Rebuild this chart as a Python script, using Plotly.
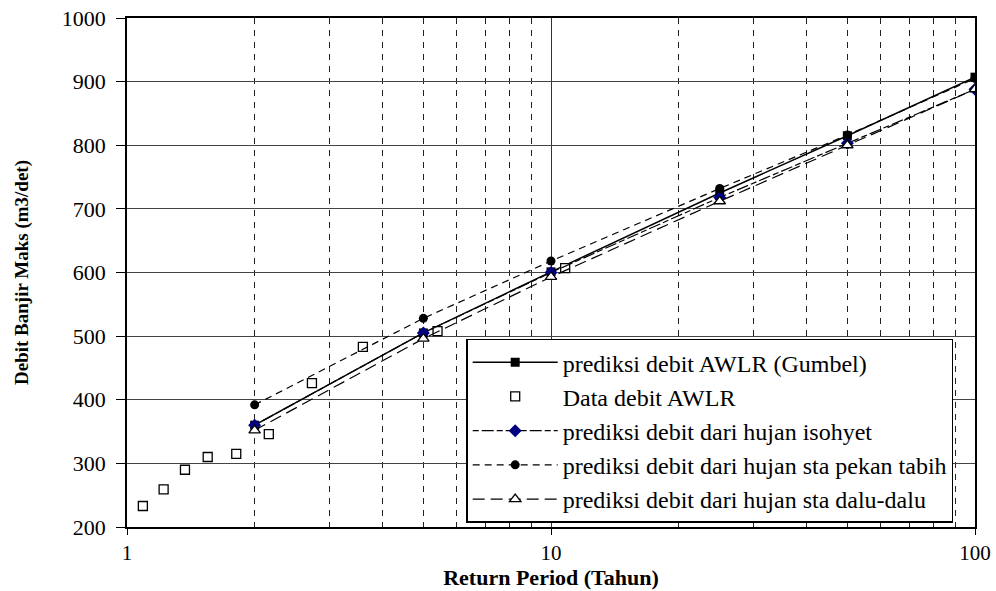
import plotly.graph_objects as go

# Return periods for predictions
T_pred = [2, 5, 10, 25, 50, 100]
gumbel = [360, 505, 601, 725, 815, 907]
isohyet = [360, 505, 600, 718, 803, 888]
pekan_tabih = [392, 528, 618, 732, 816, 905]
dalu_dalu = [352, 496, 593, 712, 800, 888]

# Observed AWLR data
T_obs = [1.09, 1.22, 1.37, 1.55, 1.81, 2.16, 2.73, 3.6, 5.4, 10.8]
Q_obs = [233, 259, 290, 310, 315, 346, 426, 483, 508, 607]

y_ticks = [200, 300, 400, 500, 600, 700, 800, 900, 1000]

SERIF = "Liberation Serif, Times New Roman, serif"

fig = go.Figure()

fig.add_trace(go.Scatter(
    x=T_pred, y=gumbel, mode="lines+markers",
    name="prediksi debit AWLR (Gumbel)", legendgroup="a",
    line=dict(color="black", width=1.5),
    marker=dict(symbol="square", size=9, color="black")))

fig.add_trace(go.Scatter(
    x=T_obs, y=Q_obs, mode="markers",
    name="Data debit AWLR", legendgroup="b",
    marker=dict(symbol="square", size=9, color="white",
                line=dict(color="black", width=1.3))))

fig.add_trace(go.Scatter(
    x=T_pred, y=isohyet, mode="lines+markers",
    name="prediksi debit dari hujan isohyet", legendgroup="c",
    line=dict(color="black", width=1.2, dash="6px,3px,12px,3px"),
    marker=dict(symbol="diamond", size=10, color="#000080")))

fig.add_trace(go.Scatter(
    x=T_pred, y=pekan_tabih, mode="lines+markers",
    name="prediksi debit dari hujan sta pekan tabih", legendgroup="d",
    line=dict(color="black", width=1.2, dash="7px,5px"),
    marker=dict(symbol="circle", size=9, color="black")))

fig.add_trace(go.Scatter(
    x=T_pred, y=dalu_dalu, mode="lines+markers",
    name="prediksi debit dari hujan sta dalu-dalu", legendgroup="e",
    line=dict(color="black", width=1.2, dash="12px,6px"),
    marker=dict(symbol="triangle-up", size=10, color="white",
                line=dict(color="black", width=1.3))))

fig.update_layout(
    width=996, height=591,
    margin=dict(l=127, r=21, t=18, b=64),
    paper_bgcolor="white", plot_bgcolor="white",
    font=dict(family=SERIF, color="black"),
    showlegend=True,
    legend=dict(
        x=0.40, y=0.37, xanchor="left", yanchor="top",
        bgcolor="white", bordercolor="black", borderwidth=1.5,
        font=dict(family=SERIF, size=24, color="black"),
        traceorder="grouped", tracegroupgap=0,
        itemwidth=85,
    ),
)

fig.update_xaxes(
    type="log", range=[0, 2], automargin=False, ticklabeloverflow="allow",
    tickvals=[1, 10, 100], ticktext=["1", "10", "100"],
    ticks="outside", ticklen=6, tickcolor="black",
    tickfont=dict(family=SERIF, size=21),
    showline=True, linecolor="black", linewidth=1.5, mirror=True,
    showgrid=True, gridcolor="#333333", gridwidth=1.2,
    minor=dict(tickvals=[2, 3, 4, 5, 6, 7, 8, 9, 20, 30, 40, 50, 60, 70, 80, 90],
               showgrid=True, gridcolor="#222222", griddash="6px,6px", gridwidth=1),
    title=dict(text="<b>Return Period (Tahun)</b>", font=dict(family=SERIF, size=22), standoff=4),
    zeroline=False,
)

fig.update_yaxes(
    range=[200, 1000], tickvals=y_ticks, automargin=False, ticklabeloverflow="allow",
    ticks="outside", ticklen=9, tickcolor="black", ticklabelstandoff=6,
    tickfont=dict(family=SERIF, size=22),
    showline=True, linecolor="black", linewidth=1.5, mirror=True,
    showgrid=True, gridcolor="#444444", gridwidth=1.3,
    title=dict(text="<b>Debit Banjir Maks (m3/det)</b>", font=dict(family=SERIF, size=19), standoff=28),
    zeroline=False,
)

fig.write_html("out.html", config={"displayModeBar": False},
               post_script="document.body.style.margin='0';document.body.style.overflow='hidden';")
